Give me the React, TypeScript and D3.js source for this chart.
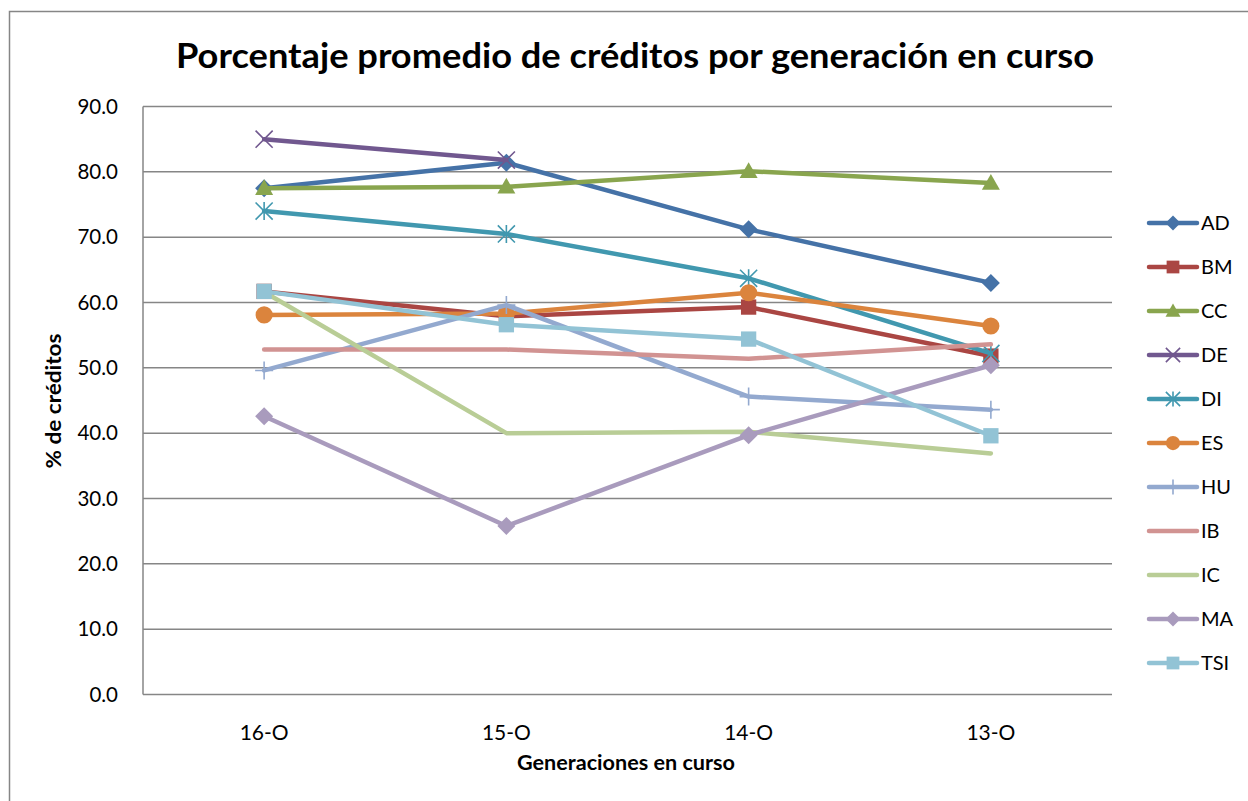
import * as d3 from 'd3';

const categories = ['16-O', '15-O', '14-O', '13-O'];
const seriesNames = ['AD', 'BM', 'CC', 'DE', 'DI', 'ES', 'HU', 'IB', 'IC', 'MA', 'TSI'];
const AD = [77.5, 81.4, 71.2, 63.0];
const BM = [61.7, 57.9, 59.3, 51.8];
const CC = [77.5, 77.7, 80.1, 78.3];
const DE = [85.0, 81.8, null, null];
const DI = [74.0, 70.5, 63.7, 52.2];
const ES = [58.1, 58.3, 61.5, 56.4];
const HU = [49.6, 59.6, 45.6, 43.6];
const IB = [52.8, 52.8, 51.4, 53.6];
const IC = [61.6, 40.0, 40.2, 36.9];
const MA = [42.6, 25.8, 39.7, 50.4];
const TSI = [61.7, 56.6, 54.4, 39.6];
const yTicks = [0, 10, 20, 30, 40, 50, 60, 70, 80, 90];

const values: (number | null)[][] = [AD, BM, CC, DE, DI, ES, HU, IB, IC, MA, TSI];
const colors = ['#4572A7', '#AA4643', '#89A54E', '#71588F', '#4198AF', '#DB843D', '#93A9CF', '#D19392', '#B9CD96', '#A99BBD', '#92C3D5'];
const markers = ['diamond', 'square', 'triangle', 'x', 'asterisk', 'circle', 'plus', 'none', 'none', 'diamond', 'square'];

const W = 1248;
const H = 801;
const margin = { left: 143, top: 106.5, right: 1112, bottom: 694.5 };
const font = 'Lato, "Open Sans", sans-serif';

function Marker({ kind, cx, cy, color, r }: { kind: string; cx: number; cy: number; color: string; r: number }) {
  if (kind === 'diamond') {
    return <path d={`M${cx},${cy - r}L${cx + r},${cy}L${cx},${cy + r}L${cx - r},${cy}Z`} fill={color} />;
  }
  if (kind === 'square') {
    const s = r * 0.85;
    return <rect x={cx - s} y={cy - s} width={s * 2} height={s * 2} fill={color} />;
  }
  if (kind === 'triangle') {
    return <path d={`M${cx},${cy - r}L${cx + r},${cy + r * 0.75}L${cx - r},${cy + r * 0.75}Z`} fill={color} />;
  }
  if (kind === 'circle') {
    return <circle cx={cx} cy={cy} r={r * 0.95} fill={color} />;
  }
  const k = r * 0.95;
  const parts: string[] = [];
  if (kind === 'x' || kind === 'asterisk') {
    parts.push(`M${cx - k},${cy - k}L${cx + k},${cy + k}M${cx - k},${cy + k}L${cx + k},${cy - k}`);
  }
  if (kind === 'asterisk' || kind === 'plus') {
    parts.push(`M${cx},${cy - r}L${cx},${cy + r}`);
  }
  if (kind === 'plus') {
    parts.push(`M${cx - r},${cy}L${cx + r},${cy}`);
  }
  return <path d={parts.join('')} stroke={color} strokeWidth={1.6} fill="none" />;
}

export default function App() {
  const x = d3.scaleBand<string>().domain(categories).range([margin.left, margin.right]);
  const y = d3.scaleLinear().domain([0, 90]).range([margin.bottom, margin.top]);
  const cx = (c: string) => (x(c) ?? 0) + x.bandwidth() / 2;

  const line = d3
    .line<number | null>()
    .defined((d) => d != null)
    .x((_, i) => cx(categories[i]))
    .y((d) => y(d as number));

  const legendY = d3.scalePoint<string>().domain(seriesNames).range([223, 663]);

  return (
    <svg width={W} height={H} style={{ position: 'absolute', left: 0, top: 0, background: '#fff' }} fontFamily={font}>
      <rect x={9.5} y={11.5} width={W + 10} height={H + 10} fill="#fff" stroke="#868686" strokeWidth={1.5} />
      <text x={635} y={68} textAnchor="middle" fontSize={35} fontWeight="bold" fill="#000" textLength={918} lengthAdjust="spacingAndGlyphs">
        Porcentaje promedio de créditos por generación en curso
      </text>

      {yTicks.map((t) => (
        <g key={t}>
          <line x1={margin.left} x2={margin.right} y1={y(t)} y2={y(t)} stroke="#868686" strokeWidth={1.5} />
          <text x={118} y={y(t)} dy="0.35em" textAnchor="end" fontSize={20.5} fill="#000">
            {t.toFixed(1)}
          </text>
        </g>
      ))}
      <line x1={margin.left} x2={margin.left} y1={margin.top} y2={margin.bottom} stroke="#868686" strokeWidth={1.5} />

      {categories.map((c) => (
        <text key={c} x={cx(c)} y={733} dy="0.35em" textAnchor="middle" fontSize={21} fill="#000">
          {c}
        </text>
      ))}
      <text x={626} y={763} dy="0.35em" textAnchor="middle" fontSize={20} fontWeight="bold" fill="#000" textLength={218} lengthAdjust="spacingAndGlyphs">
        Generaciones en curso
      </text>
      <text transform={`translate(54,401) rotate(-90)`} dy="0.35em" textAnchor="middle" fontSize={20} fontWeight="bold" fill="#000" textLength={135} lengthAdjust="spacingAndGlyphs">
        % de créditos
      </text>

      {values.map((vals, si) => (
        <g key={seriesNames[si]}>
          <path d={line(vals) ?? ''} fill="none" stroke={colors[si]} strokeWidth={4.5} strokeLinejoin="round" strokeLinecap="round" />
          {vals.map((v, i) =>
            v == null || markers[si] === 'none' ? null : (
              <Marker key={i} kind={markers[si]} cx={cx(categories[i])} cy={y(v)} color={colors[si]} r={9} />
            )
          )}
        </g>
      ))}

      {seriesNames.map((n, si) => {
        const ly = legendY(n) ?? 0;
        return (
          <g key={n}>
            <line x1={1149} x2={1197} y1={ly} y2={ly} stroke={colors[si]} strokeWidth={4.5} strokeLinecap="round" />
            {markers[si] !== 'none' && <Marker kind={markers[si]} cx={1173} cy={ly} color={colors[si]} r={7.5} />}
            <text x={1201} y={ly} dy="0.35em" fontSize={20} fill="#000">
              {n}
            </text>
          </g>
        );
      })}
    </svg>
  );
}
